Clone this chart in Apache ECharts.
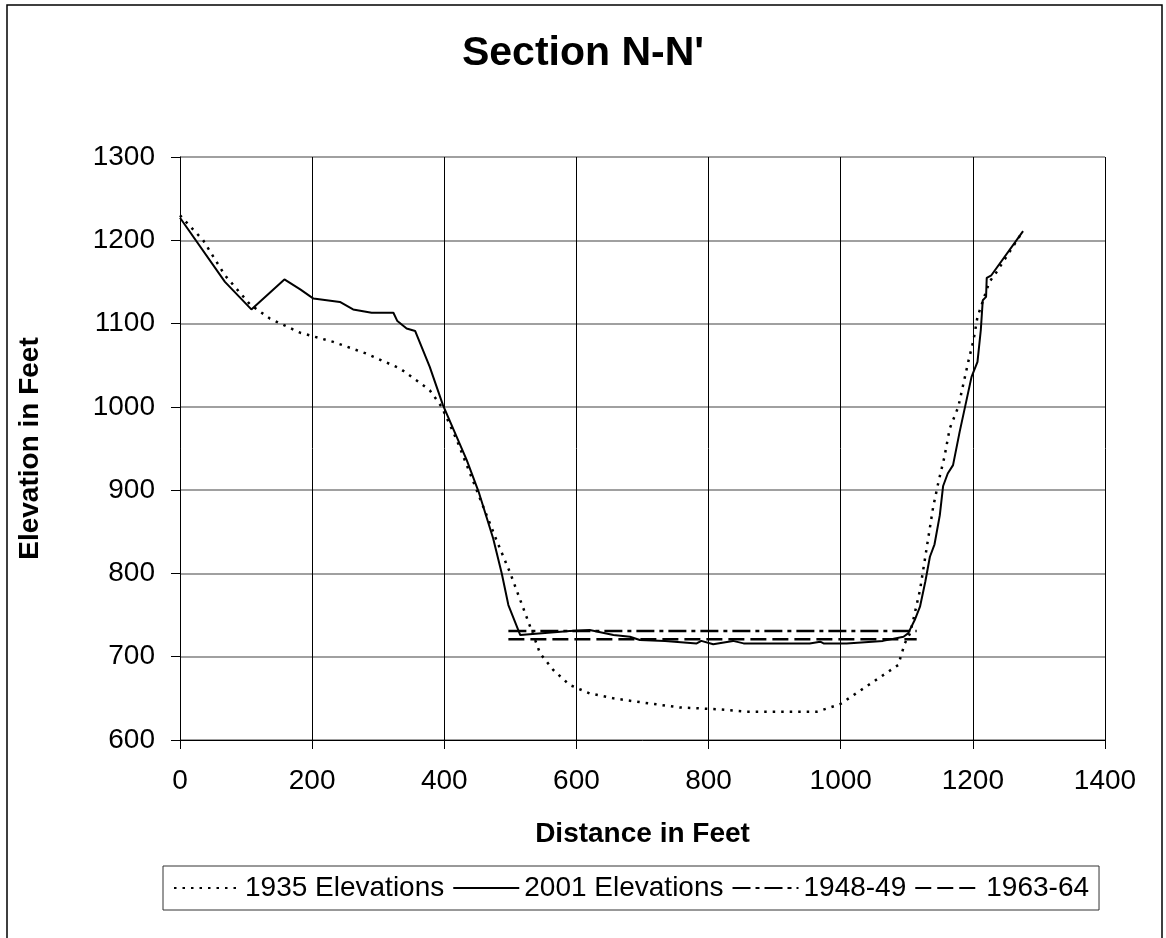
<!DOCTYPE html>
<html>
<head>
<meta charset="utf-8">
<script src="https://cdn.jsdelivr.net/npm/echarts@6/dist/echarts.min.js"></script>
<style>html,body{margin:0;padding:0;background:#fff;}#c{width:1166px;height:938px;}</style>
</head>
<body>
<div id="c"></div>
<script>
var xTicks = [0, 200, 400, 600, 800, 1000, 1200, 1400];
var yTicks = [600, 700, 800, 900, 1000, 1100, 1200, 1300];

var elev1935 = [[0,1230],[35,1200],[68,1158],[106,1123],[136,1106],[182,1089],[232,1078],[282,1064],[333,1046],[361,1030],[378,1020],[396,1000],[419,960],[439,920],[459,880],[479,840],[500,800],[515,768],[530,736],[545,704],[565,684],[590,666],[620,656],[656,650],[691,646],[757,639],[812,637],[858,634],[964,634],[999,643],[1042,666],[1072,682],[1087,690],[1097,716],[1105,728],[1110,745],[1120,780],[1130,830],[1140,880],[1148,910],[1157,940],[1165,974],[1178,1000],[1193,1054],[1201,1080],[1207,1108],[1213,1122],[1225,1150],[1236,1162],[1275,1210]];

var elev2001 = [[0,1227],[68,1150],[108,1117],[158,1153],[182,1141],[202,1130],[222,1128],[242,1126],[262,1117],[290,1113],[323,1113],[329,1103],[343,1094],[356,1091],[378,1048],[398,1002],[434,936],[452,898],[474,842],[487,800],[497,762],[515,726],[590,731],[620,732],[656,726],[681,724],[696,720],[734,719],[782,716],[789,719],[807,715],[837,719],[853,716],[953,716],[969,718],[974,716],[1009,716],[1064,719],[1095,724],[1102,728],[1112,744],[1120,760],[1128,790],[1135,820],[1142,835],[1150,870],[1155,905],[1162,920],[1170,930],[1180,970],[1198,1036],[1207,1054],[1212,1092],[1215,1128],[1220,1132],[1221,1155],[1228,1158],[1276,1211]];

var elev1948 = [[497,731],[1115,731]];
var elev1963 = [[497,721],[1115,721]];

var FONT = '"Liberation Sans", Arial, sans-serif';
var chart = echarts.init(document.getElementById('c'), null, {renderer: 'canvas'});
chart.setOption({
  animation: false,
  backgroundColor: '#fff',
  graphic: [{
    type: 'rect', shape: {x: 7, y: 5, width: 1155, height: 960},
    style: {fill: 'none', stroke: '#000', lineWidth: 1.5}, silent: true, z: -1
  }],
  title: {
    text: "Section N-N'", left: 'center', top: 28,
    textStyle: {fontFamily: FONT, fontSize: 41, fontWeight: 'bold', color: '#000'}
  },
  grid: {left: 180, right: 61, top: 157, bottom: 198, containLabel: false, show: false},
  xAxis: {
    type: 'value', min: 0, max: 1400, interval: 200,
    name: 'Distance in Feet', nameLocation: 'middle', nameGap: 80,
    nameTextStyle: {fontFamily: FONT, fontSize: 28, fontWeight: 'bold', color: '#000'},
    axisLine: {show: true, lineStyle: {color: '#000', width: 1}},
    axisTick: {show: true, length: 9, lineStyle: {color: '#000'}},
    axisLabel: {fontFamily: FONT, fontSize: 28, color: '#000', margin: 27,
      formatter: function (v) { return xTicks.indexOf(v) >= 0 ? String(v) : ''; }},
    splitLine: {show: true, lineStyle: {color: '#000', width: 1}}
  },
  yAxis: {
    type: 'value', min: 600, max: 1300, interval: 100,
    name: 'Elevation in Feet', nameLocation: 'middle', nameGap: 136, nameRotate: 90,
    nameTextStyle: {fontFamily: FONT, fontSize: 28, fontWeight: 'bold', color: '#000'},
    axisLine: {show: true, lineStyle: {color: '#000', width: 1}},
    axisTick: {show: true, length: 9, lineStyle: {color: '#000'}},
    axisLabel: {fontFamily: FONT, fontSize: 28, color: '#000', margin: 25,
      formatter: function (v) { return yTicks.indexOf(v) >= 0 ? String(v) : ''; }},
    splitLine: {show: true, lineStyle: {color: '#808080', width: 1.5}}
  },
  legend: {
    left: 163, top: 866, width: 935,
    padding: [8, 10, 8, 10],
    borderColor: '#333', borderWidth: 1,
    icon: 'inherit',
    itemWidth: 66, itemHeight: 14, itemGap: 8,
    itemStyle: {color: 'rgba(0,0,0,0)', borderColor: 'rgba(0,0,0,0)', borderWidth: 0},
    textStyle: {fontFamily: FONT, fontSize: 28, color: '#000'},
    data: ['1935 Elevations', '2001 Elevations', '1948-49', '1963-64']
  },
  series: [
    {name: '1935 Elevations', type: 'line', data: elev1935, symbol: 'none', showSymbol: false,
      lineStyle: {color: '#000', width: 2.5, type: [2.5, 6]}, itemStyle: {color: '#000'}},
    {name: '2001 Elevations', type: 'line', data: elev2001, symbol: 'none', showSymbol: false,
      lineStyle: {color: '#000', width: 2, type: 'solid'}, itemStyle: {color: '#000'}},
    {name: '1948-49', type: 'line', data: elev1948, symbol: 'none', showSymbol: false,
      lineStyle: {color: '#000', width: 2.5, type: [18, 5, 4, 5]}, itemStyle: {color: '#000'}},
    {name: '1963-64', type: 'line', data: elev1963, symbol: 'none', showSymbol: false,
      lineStyle: {color: '#000', width: 2.5, type: [16, 6]}, itemStyle: {color: '#000'}}
  ]
});
</script>
</body>
</html>
